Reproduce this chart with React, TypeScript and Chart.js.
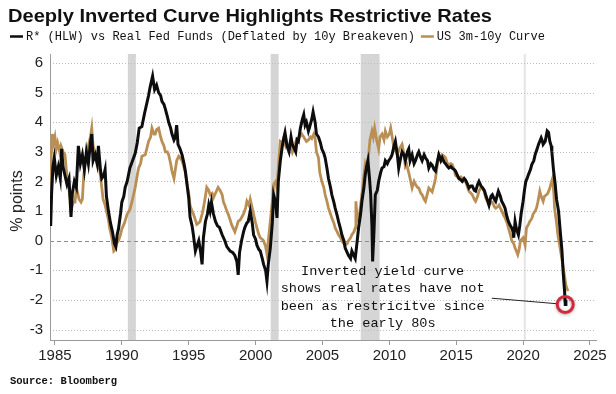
import React, { useEffect, useRef } from "react";
import { Chart, registerables } from "chart.js";

Chart.register(...registerables);

const TITLE = "Deeply Inverted Curve Highlights Restrictive Rates";
const SERIES_NAMES = [
  "R* (HLW) vs Real Fed Funds (Deflated by 10y Breakeven)",
  "US 3m-10y Curve",
];
const SOURCE = "Source: Bloomberg";
const Y_LABEL = "% points";
const X_TICKS = [1985, 1990, 1995, 2000, 2005, 2010, 2015, 2020, 2025];
const Y_TICKS = [-3, -2, -1, 0, 1, 2, 3, 4, 5, 6];
const RECESSION_START = [1990.45, 2001.13, 2007.86, 2020.05];
const RECESSION_END = [1991.05, 2001.72, 2009.27, 2020.2];
const ANNOTATION_LINES = [
  "Inverted yield curve",
  "shows real rates have not",
  "been as restricitve since",
  "the early 80s",
];
const ANNOTATION_TEXT_AT = [2009.5, -1.04];
const ANNOTATION_LINE_FROM = [2017.66, -1.94];
const ANNOTATION_TARGET = [2023.15, -2.15];

// R* (HLW) vs Real Fed Funds
const realRateYears = [
  1984.63, 1984.68, 1984.75, 1984.85, 1984.95, 1985.1, 1985.25, 1985.4, 1985.5, 1985.6,
  1985.75, 1985.9, 1986.05, 1986.2, 1986.3, 1986.45, 1986.6, 1986.75, 1986.9, 1987.05,
  1987.2, 1987.35, 1987.5, 1987.65, 1987.75, 1987.85, 1988.0, 1988.15, 1988.25, 1988.4,
  1988.5, 1988.65, 1988.75, 1988.85, 1989.0, 1989.15, 1989.3, 1989.45, 1989.55, 1989.65,
  1989.75, 1989.9, 1990.0, 1990.15, 1990.25, 1990.4, 1990.6, 1990.8, 1991.0, 1991.15,
  1991.3, 1991.5, 1991.7, 1991.85, 1992.0, 1992.1, 1992.3, 1992.45, 1992.6, 1992.75,
  1992.9, 1993.0, 1993.15, 1993.25, 1993.4, 1993.5, 1993.65, 1993.75, 1993.9, 1994.0,
  1994.1, 1994.2, 1994.35, 1994.5, 1994.65, 1994.75, 1994.9, 1995.0, 1995.1, 1995.25,
  1995.35, 1995.5, 1995.6, 1995.75, 1995.9, 1996.0, 1996.1, 1996.25, 1996.4, 1996.5,
  1996.6, 1996.7, 1996.85, 1997.0, 1997.15, 1997.3, 1997.5, 1997.7, 1997.85, 1998.1,
  1998.3, 1998.45, 1998.6, 1998.7, 1998.8, 1998.95, 1999.1, 1999.2, 1999.35, 1999.45,
  1999.6, 1999.75, 1999.85, 2000.0, 2000.1, 2000.25, 2000.35, 2000.5, 2000.6, 2000.75,
  2000.85, 2000.95, 2001.1, 2001.25, 2001.35, 2001.5, 2001.6, 2001.7, 2001.85, 2002.0,
  2002.1, 2002.2, 2002.35, 2002.5, 2002.65, 2002.75, 2002.9, 2003.0, 2003.1, 2003.2,
  2003.35, 2003.5, 2003.6, 2003.7, 2003.8, 2003.95, 2004.05, 2004.2, 2004.3, 2004.45,
  2004.55, 2004.7, 2004.85, 2004.95, 2005.1, 2005.2, 2005.35, 2005.45, 2005.6, 2005.7,
  2005.85, 2005.95, 2006.1, 2006.2, 2006.35, 2006.45, 2006.6, 2006.7, 2006.85, 2006.95,
  2007.1, 2007.2, 2007.35, 2007.45, 2007.55, 2007.7, 2007.85, 2007.95, 2008.1, 2008.2,
  2008.3, 2008.4, 2008.5, 2008.6, 2008.7, 2008.75, 2008.85, 2008.95, 2009.1, 2009.2,
  2009.35, 2009.45, 2009.6, 2009.7, 2009.85, 2009.95, 2010.1, 2010.2, 2010.35, 2010.45,
  2010.6, 2010.7, 2010.85, 2010.95, 2011.1, 2011.2, 2011.35, 2011.45, 2011.55, 2011.7,
  2011.85, 2011.95, 2012.1, 2012.2, 2012.35, 2012.45, 2012.6, 2012.7, 2012.85, 2012.95,
  2013.1, 2013.2, 2013.35, 2013.45, 2013.6, 2013.7, 2013.85, 2013.95, 2014.1, 2014.2,
  2014.35, 2014.45, 2014.6, 2014.7, 2014.85, 2014.95, 2015.1, 2015.2, 2015.35, 2015.45,
  2015.6, 2015.7, 2015.85, 2015.95, 2016.1, 2016.2, 2016.35, 2016.45, 2016.6, 2016.7,
  2016.85, 2016.95, 2017.1, 2017.2, 2017.35, 2017.45, 2017.6, 2017.7, 2017.85, 2017.95,
  2018.05, 2018.15, 2018.3, 2018.4, 2018.55, 2018.65, 2018.8, 2018.9, 2019.05, 2019.15,
  2019.25, 2019.3, 2019.4, 2019.5, 2019.65, 2019.75, 2019.85, 2020.0, 2020.1, 2020.2,
  2020.3, 2020.4, 2020.55, 2020.65, 2020.8, 2020.9, 2021.05, 2021.15, 2021.35, 2021.45,
  2021.5, 2021.65, 2021.8, 2021.9, 2022.0, 2022.1, 2022.15, 2022.27, 2022.4, 2022.5,
  2022.65, 2022.8, 2022.9, 2023.0, 2023.1, 2023.15, 2023.2,
];
const realRateValues = [
  1.3, 0.5, 1.6, 2.5, 2.8, 2.2, 2.5, 2.1, 3.1, 2.5,
  2.2, 1.9, 2.1, 0.8, 1.6, 2.0, 1.8, 3.2, 2.6, 2.9,
  2.4, 3.0, 2.6, 3.3, 3.6, 2.7, 2.9, 2.6, 3.2, 2.4,
  2.1, 2.2, 2.4, 1.5, 1.0, 0.6, 0.3, -0.1, -0.2, 0.2,
  0.4, 0.9, 1.3, 1.5, 1.8, 2.0, 2.45, 2.7, 2.95, 3.3,
  3.8, 3.85, 4.3, 4.6, 4.9, 5.15, 5.55, 5.1, 5.25, 5.0,
  4.9, 4.7, 4.6, 4.45, 4.2, 4.0, 3.8, 3.6, 3.4, 3.5,
  3.9, 3.25, 3.1, 2.9, 2.6, 2.35, 1.8, 1.45, 0.8, 0.5,
  0.2, -0.35, -0.2, 0.0, -0.4, -0.8, 0.1, 0.65, 0.9, 1.2,
  1.0, 1.3, 0.9, 0.65, 0.5, 0.45, 0.2, 0.0, -0.2, -0.35,
  -0.4, -0.5, -0.7, -1.15, -0.4, 0.0, 0.3, 0.45, 0.6, 0.65,
  1.0, 0.6, 0.2, 0.05, -0.15, -0.3, -0.35, -0.6, -0.8, -1.0,
  -1.37, -0.8, -0.25, 0.6, 1.55, 1.3, 0.77, 2.0, 2.7, 3.2,
  3.45, 3.65, 3.2, 3.0, 3.5, 3.25, 3.1, 3.0, 3.4, 3.35,
  3.8, 4.1, 4.25, 3.9, 4.0, 3.7, 3.85, 4.1, 4.35, 4.0,
  3.6, 3.5, 3.3, 3.1, 2.95, 2.8, 2.4, 2.1, 1.8, 1.55,
  1.3, 1.1, 0.85, 0.65, 0.4, 0.2, 0.0, -0.25, -0.4, -0.5,
  -0.6, -0.35, -0.5, -0.6, -0.2, 0.43, 0.9, 1.33, 1.8, 2.23,
  2.5, 2.7, 2.2, 1.6, 0.5, -0.7, 0.3, 1.55, 1.7, 2.0,
  2.3, 2.45, 2.5, 2.7, 2.6, 2.7, 2.8, 2.9, 3.2, 3.35,
  2.9, 2.45, 2.8, 3.0, 2.9, 2.7, 3.0, 3.1, 2.7, 2.9,
  2.6, 2.7, 2.9, 3.0, 2.8, 2.7, 2.9, 2.8, 2.7, 2.45,
  2.6, 2.55, 2.4, 2.35, 2.7, 2.9, 2.7, 2.8, 2.65, 2.6,
  2.5, 2.45, 2.5, 2.45, 2.4, 2.35, 2.2, 2.1, 2.05, 2.0,
  2.1, 2.05, 1.9, 1.78, 1.85, 1.85, 1.7, 1.67, 1.9, 2.0,
  1.85, 1.8, 1.7, 1.55, 1.35, 1.2, 1.5, 1.55, 1.4, 1.33,
  1.5, 1.67, 1.5, 1.33, 1.2, 1.1, 0.8, 0.65, 0.5, 0.43,
  0.3, 0.1, 0.65, 0.4, 0.2, 0.5, 0.9, 1.33, 1.7, 2.0,
  2.1, 2.23, 2.4, 2.57, 2.7, 2.9, 3.1, 3.25, 3.47, 3.35,
  3.25, 3.35, 3.7, 3.65, 3.35, 3.2, 3.0, 2.4, 1.9, 1.4,
  1.0, 0.2, -0.3, -1.1, -1.7, -2.15, -2.0,
];

// US 3m-10y Curve
const curveYears = [
  1984.63, 1984.7, 1984.8, 1984.9, 1985.0, 1985.1, 1985.2, 1985.35, 1985.45, 1985.6,
  1985.75, 1985.85, 1986.0, 1986.1, 1986.25, 1986.35, 1986.5, 1986.6, 1986.7, 1986.8,
  1986.95, 1987.05, 1987.15, 1987.25, 1987.4, 1987.5, 1987.65, 1987.75, 1987.85, 1988.0,
  1988.15, 1988.25, 1988.4, 1988.5, 1988.6, 1988.75, 1988.9, 1989.0, 1989.1, 1989.25,
  1989.4, 1989.5, 1989.6, 1989.75, 1989.9, 1990.0, 1990.2, 1990.4, 1990.6, 1990.75,
  1990.9, 1991.0, 1991.15, 1991.25, 1991.4, 1991.5, 1991.75, 1992.0, 1992.15, 1992.25,
  1992.4, 1992.5, 1992.6, 1992.75, 1992.9, 1993.0, 1993.15, 1993.25, 1993.4, 1993.5,
  1993.65, 1993.75, 1993.9, 1994.0, 1994.1, 1994.25, 1994.35, 1994.5, 1994.6, 1994.75,
  1994.85, 1995.0, 1995.1, 1995.25, 1995.35, 1995.5, 1995.6, 1995.75, 1995.85, 1996.0,
  1996.1, 1996.25, 1996.35, 1996.5, 1996.6, 1996.75, 1996.85, 1997.0, 1997.2, 1997.35,
  1997.5, 1997.6, 1997.7, 1997.85, 1997.95, 1998.1, 1998.2, 1998.35, 1998.45, 1998.6,
  1998.7, 1998.85, 1999.1, 1999.25, 1999.35, 1999.5, 1999.6, 1999.75, 1999.85, 2000.0,
  2000.1, 2000.25, 2000.35, 2000.5, 2000.6, 2000.75, 2000.85, 2000.95, 2001.1, 2001.25,
  2001.35, 2001.5, 2001.6, 2001.75, 2001.85, 2002.0, 2002.1, 2002.25, 2002.35, 2002.5,
  2002.65, 2002.75, 2002.9, 2003.1, 2003.3, 2003.45, 2003.6, 2003.8, 2003.95, 2004.1,
  2004.2, 2004.35, 2004.45, 2004.55, 2004.7, 2004.8, 2004.95, 2005.1, 2005.2, 2005.35,
  2005.45, 2005.6, 2005.7, 2005.85, 2005.95, 2006.1, 2006.2, 2006.35, 2006.45, 2006.6,
  2006.7, 2006.85, 2006.95, 2007.1, 2007.2, 2007.35, 2007.45, 2007.5, 2007.6, 2007.7,
  2007.85, 2007.95, 2008.1, 2008.2, 2008.3, 2008.45, 2008.55, 2008.7, 2008.8, 2008.9,
  2009.05, 2009.2, 2009.3, 2009.45, 2009.6, 2009.7, 2009.85, 2010.0, 2010.1, 2010.25,
  2010.35, 2010.5, 2010.6, 2010.75, 2010.95, 2011.1, 2011.2, 2011.3, 2011.45, 2011.55,
  2011.7, 2011.85, 2011.95, 2012.1, 2012.2, 2012.35, 2012.45, 2012.6, 2012.7, 2012.85,
  2012.95, 2013.1, 2013.2, 2013.35, 2013.45, 2013.6, 2013.7, 2013.85, 2013.95, 2014.1,
  2014.2, 2014.35, 2014.45, 2014.6, 2014.7, 2014.85, 2014.95, 2015.1, 2015.2, 2015.35,
  2015.45, 2015.6, 2015.7, 2015.85, 2015.95, 2016.1, 2016.2, 2016.35, 2016.45, 2016.6,
  2016.7, 2016.85, 2016.95, 2017.1, 2017.2, 2017.35, 2017.45, 2017.6, 2017.7, 2017.85,
  2017.95, 2018.1, 2018.2, 2018.35, 2018.4, 2018.55, 2018.65, 2018.8, 2018.9, 2019.05,
  2019.15, 2019.3, 2019.4, 2019.5, 2019.6, 2019.7, 2019.8, 2019.9, 2020.0, 2020.15,
  2020.25, 2020.4, 2020.5, 2020.65, 2020.75, 2020.9, 2021.0, 2021.1, 2021.25, 2021.35,
  2021.5, 2021.6, 2021.75, 2021.85, 2022.0, 2022.1, 2022.2, 2022.3, 2022.35, 2022.5,
  2022.6, 2022.75, 2022.85, 2023.0, 2023.1, 2023.2, 2023.35,
];
const curveValues = [
  1.9, 2.6, 3.6, 3.3, 3.5, 3.1, 3.3, 3.0, 3.2, 3.0,
  2.9, 2.4, 1.9, 1.55, 1.1, 1.3, 1.3, 1.8, 1.6, 1.4,
  1.3, 1.4, 2.2, 2.6, 2.9, 3.2, 3.5, 3.8, 3.2, 3.0,
  2.9, 2.7, 2.2, 1.8, 1.4, 1.2, 0.9, 0.7, 0.4, 0.1,
  -0.35, -0.3, -0.1, 0.0, 0.2, 0.4, 0.6, 0.9, 1.05, 1.3,
  1.6, 1.8, 2.2, 2.45, 2.6, 2.85, 2.9, 3.35, 3.5, 3.8,
  3.6, 3.6, 3.75, 3.8, 3.5, 3.35, 3.2, 3.0, 3.0, 2.9,
  2.6, 2.35, 2.1, 2.4, 2.7, 2.85, 2.8, 2.7, 2.55, 2.3,
  2.0, 1.6, 1.2, 1.0, 0.9, 0.7, 0.55, 0.6, 0.65, 0.9,
  1.1, 1.5, 1.8, 1.7, 1.55, 1.6, 1.45, 1.6, 1.8, 1.7,
  1.55, 1.3, 1.2, 1.0, 0.9, 0.7, 0.55, 0.4, 0.3, 0.5,
  0.65, 0.7, 0.9, 1.1, 1.33, 1.2, 1.4, 1.1, 0.9, 0.6,
  0.43, 0.2, 0.1, 0.05, 0.0, -0.2, -0.45, 0.0, 0.65, 1.3,
  1.9, 2.0, 1.8, 2.8, 3.35, 3.3, 3.45, 3.2, 3.3, 3.1,
  3.2, 3.0, 3.2, 3.45, 3.5, 3.6, 3.5, 3.35, 3.4, 3.5,
  3.45, 3.6, 3.45, 3.0, 2.8, 2.3, 2.0, 1.8, 1.55, 1.3,
  1.1, 0.9, 0.77, 0.6, 0.43, 0.3, 0.2, 0.1, 0.0, -0.1,
  -0.15, -0.1, 0.0, 0.1, 0.2, 0.3, 0.43, 1.33, 0.7, 0.65,
  1.2, 1.55, 2.2, 2.57, 2.4, 2.9, 3.4, 3.7, 3.5, 3.8,
  3.4, 3.1, 3.5, 3.6, 3.4, 3.7, 3.5, 3.6, 3.8, 3.4,
  3.1, 3.0, 2.9, 3.1, 3.25, 2.9, 2.5, 2.57, 2.3, 2.1,
  1.78, 2.0, 1.9, 1.8, 1.78, 1.6, 1.55, 1.4, 1.33, 1.6,
  1.78, 1.7, 1.65, 1.9, 2.1, 2.6, 2.9, 2.8, 2.9, 2.85,
  2.8, 2.6, 2.57, 2.6, 2.57, 2.4, 2.2, 2.15, 2.1, 2.15,
  2.1, 2.0, 2.0, 1.8, 1.67, 1.6, 1.55, 1.4, 1.33, 1.5,
  1.67, 1.8, 1.78, 1.65, 1.45, 1.3, 1.2, 1.3, 1.3, 1.15,
  1.1, 1.15, 1.2, 1.05, 1.0, 0.9, 0.77, 0.6, 0.43, 0.2,
  0.0, -0.1, -0.25, -0.35, -0.47, -0.3, 0.0, 0.05, 0.1, -0.15,
  0.43, 0.55, 0.65, 0.75, 0.9, 1.0, 1.1, 1.3, 1.67, 1.5,
  1.33, 1.5, 1.55, 1.6, 1.78, 1.95, 2.1, 1.6, 1.1, 0.6,
  0.2, -0.2, -0.47, -0.9, -1.2, -1.5, -1.7,
];

const BLACK = "#0d0d0d";
const TAN = "#b98f55";

const decorPlugin = {
  id: "decor",
  beforeDraw(chart: any) {
    const { ctx, chartArea: a, scales } = chart;
    const x = scales.x;
    const y = scales.y;
    ctx.save();
    for (let i = 0; i < RECESSION_START.length; i++) {
      const x0 = x.getPixelForValue(RECESSION_START[i]);
      const x1 = x.getPixelForValue(RECESSION_END[i]);
      ctx.fillStyle = i === 3 ? "#e4e4e4" : "#d5d5d5";
      ctx.fillRect(x0, a.top, x1 - x0, a.bottom - a.top);
    }
    for (const v of Y_TICKS) {
      const py = Math.round(y.getPixelForValue(v)) + 0.5;
      ctx.beginPath();
      if (v === 0) {
        ctx.setLineDash([4, 3]);
        ctx.strokeStyle = "#8c8c8c";
      } else {
        ctx.setLineDash([1, 2]);
        ctx.strokeStyle = "#bdbdbd";
      }
      ctx.lineWidth = 1;
      ctx.moveTo(a.left, py);
      ctx.lineTo(a.right, py);
      ctx.stroke();
    }
    ctx.restore();
  },
  afterDraw(chart: any) {
    const { ctx, scales } = chart;
    const x = scales.x;
    const y = scales.y;
    ctx.save();
    // title
    ctx.fillStyle = "#111";
    ctx.font = 'bold 19px "Liberation Sans"';
    ctx.textBaseline = "alphabetic";
    ctx.textAlign = "left";
    const tw = ctx.measureText(TITLE).width;
    ctx.save();
    ctx.translate(8, 21.5);
    ctx.scale(484 / tw, 1);
    ctx.fillText(TITLE, 0, 0);
    ctx.restore();

    // legend
    const ly = 36.5;
    ctx.font = '12px "Liberation Mono"';
    ctx.textBaseline = "middle";
    let lx = 10;
    const colors = [BLACK, TAN];
    SERIES_NAMES.forEach((name, i) => {
      ctx.strokeStyle = colors[i];
      ctx.lineWidth = 2.5;
      ctx.setLineDash([]);
      ctx.beginPath();
      ctx.moveTo(lx, ly);
      ctx.lineTo(lx + 13, ly);
      ctx.stroke();
      lx += 16;
      ctx.fillStyle = "#111";
      ctx.fillText(name, lx, ly);
      lx += ctx.measureText(name).width + 6;
    });

    // y axis title
    ctx.save();
    ctx.translate(18, 201);
    ctx.rotate(-Math.PI / 2);
    ctx.font = '16px "Liberation Sans"';
    ctx.textAlign = "center";
    ctx.textBaseline = "middle";
    ctx.fillStyle = "#222";
    ctx.fillText(Y_LABEL, 0, 0);
    ctx.restore();

    // source
    ctx.font = 'bold 10.5px "Liberation Mono"';
    ctx.textAlign = "left";
    ctx.textBaseline = "middle";
    ctx.fillStyle = "#111";
    ctx.fillText(SOURCE, 10, 381);

    // annotation text
    const tx = x.getPixelForValue(ANNOTATION_TEXT_AT[0]);
    const ty = y.getPixelForValue(ANNOTATION_TEXT_AT[1]);
    ctx.font = '13.6px "Liberation Mono"';
    ctx.textAlign = "center";
    ctx.textBaseline = "middle";
    ctx.fillStyle = "#111";
    ANNOTATION_LINES.forEach((line, i) => {
      ctx.fillText(line, tx, ty + i * 17.2);
    });

    // pointer line and circle
    const cx = x.getPixelForValue(ANNOTATION_TARGET[0]);
    const cy = y.getPixelForValue(ANNOTATION_TARGET[1]);
    const sx = x.getPixelForValue(ANNOTATION_LINE_FROM[0]);
    const sy = y.getPixelForValue(ANNOTATION_LINE_FROM[1]);
    const r = 8;
    const d = Math.hypot(cx - sx, cy - sy);
    ctx.strokeStyle = "#222";
    ctx.lineWidth = 1;
    ctx.beginPath();
    ctx.moveTo(sx, sy);
    ctx.lineTo(cx - ((cx - sx) / d) * r, cy - ((cy - sy) / d) * r);
    ctx.stroke();

    ctx.shadowColor = "rgba(0,0,0,0.35)";
    ctx.shadowBlur = 3;
    ctx.shadowOffsetY = 1;
    ctx.strokeStyle = "#d22a3c";
    ctx.lineWidth = 3;
    ctx.beginPath();
    ctx.arc(cx, cy, r, 0, Math.PI * 2);
    ctx.stroke();
    ctx.restore();
  },
};

export default function App() {
  const ref = useRef<HTMLCanvasElement>(null);
  useEffect(() => {
    document.body.style.margin = "0";
    const tickFont = { family: '"Liberation Sans"', size: 15 };
    const chart = new Chart(ref.current!, {
      type: "line",
      data: {
        datasets: [
          {
            label: SERIES_NAMES[0],
            data: realRateYears.map((yr, i) => ({ x: yr, y: realRateValues[i] })),
            borderColor: BLACK,
            borderWidth: 3,
            pointRadius: 0,
            tension: 0,
          },
          {
            label: SERIES_NAMES[1],
            data: curveYears.map((yr, i) => ({ x: yr, y: curveValues[i] })),
            borderColor: TAN,
            borderWidth: 2.8,
            pointRadius: 0,
            tension: 0,
          },
        ],
      },
      options: {
        animation: false,
        responsive: false,
        devicePixelRatio: 1,
        layout: { padding: { top: 54, right: 20, bottom: 0, left: 0 } },
        plugins: {
          legend: { display: false },
          title: { display: false },
          tooltip: { enabled: false },
        },
        scales: {
          x: {
            type: "linear",
            min: 1984.63,
            max: 2025.45,
            afterBuildTicks: (s: any) => {
              s.ticks = X_TICKS.map((v) => ({ value: v }));
            },
            afterFit: (s: any) => {
              s.height = 54;
            },
            grid: {
              display: true,
              drawOnChartArea: false,
              drawTicks: true,
              tickLength: 5,
              color: "#9a9a9a",
            },
            border: { display: true, color: "#9a9a9a" },
            ticks: {
              font: tickFont,
              color: "#222",
              padding: 2,
              maxRotation: 0,
              autoSkip: false,
              callback: (v: any) => String(v),
            },
          },
          y: {
            type: "linear",
            min: -3.35,
            max: 6.3,
            afterBuildTicks: (s: any) => {
              s.ticks = Y_TICKS.map((v) => ({ value: v }));
            },
            afterFit: (s: any) => {
              s.width = 50;
            },
            grid: { display: false, drawTicks: false },
            border: { display: true, color: "#9a9a9a" },
            ticks: {
              font: tickFont,
              color: "#222",
              padding: 7,
              autoSkip: false,
              callback: (v: any) => String(v),
            },
          },
        },
      },
      plugins: [decorPlugin],
    } as any);
    return () => chart.destroy();
  }, []);
  return (
    <div style={{ width: 616, height: 394 }}>
      <canvas ref={ref} width={616} height={394} style={{ display: "block" }} />
    </div>
  );
}
